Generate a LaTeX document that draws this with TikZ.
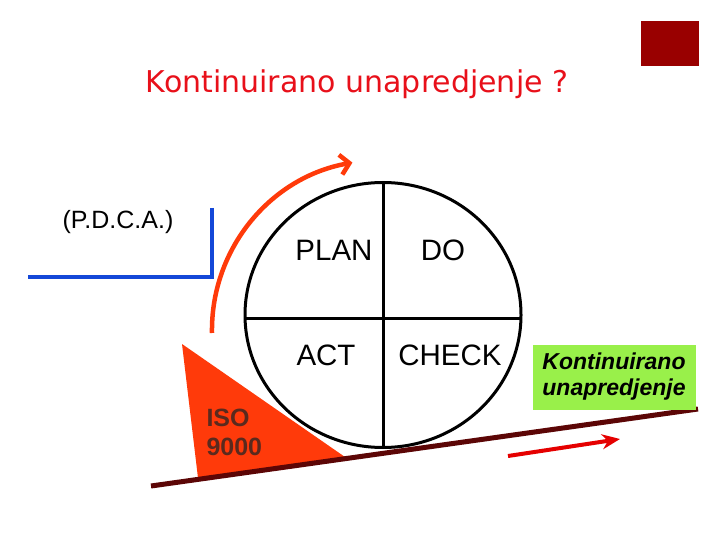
\documentclass[tikz,border=0pt]{standalone}
\usepackage{fontspec}
\setmainfont{Liberation Sans}
\newfontfamily\titlefont{DejaVu Sans}
\usetikzlibrary{arrows.meta,shapes.geometric}
\definecolor{titlered}{HTML}{E8101A}
\definecolor{pdcablue}{HTML}{1448D8}
\definecolor{arcorange}{HTML}{FF3A0A}
\definecolor{groundbrown}{HTML}{5C0606}
\definecolor{isobrown}{HTML}{5A2A1E}
\definecolor{boxgreen}{HTML}{99F04A}
\definecolor{darkred}{HTML}{990000}
\tikzset{
  quad/.style={font=\fontsize{29.5}{32}\selectfont, text=black},
}
\begin{document}
\begin{tikzpicture}[x=1pt,y=-1pt]
\useasboundingbox (0,0) rectangle (720,540);
% corner box
\fill[darkred] (641,21) rectangle (699,66);
% title
\node[text=titlered, font=\titlefont\fontsize{30}{33}\selectfont] (title) at (357,84) {Kontinuirano unapredjenje ?};
% PDCA label and blue L
\node[font=\fontsize{25}{28}\selectfont] (pdca) at (118,222) {(P.D.C.A.)};
\coordinate (bl1) at (212,208);
\coordinate (bl2) at (212,277);
\coordinate (bl3) at (28,277);
\draw[pdcablue, line width=4pt] (bl1) -- (bl2) -- (bl3);
% ISO triangle
\coordinate (t1) at (182,344);
\coordinate (t2) at (198,478);
\coordinate (t3) at (345,457);
\fill[arcorange] (t1) -- (t2) -- (t3) -- cycle;
\node[text=isobrown, font=\bfseries\fontsize{25}{29}\selectfont, align=left, anchor=north west] (iso) at (203,406) {ISO\\9000};
% cycle
\node[draw, line width=3pt, ellipse, minimum width=276pt, minimum height=265pt, inner sep=0pt] (cyc) at (383,315) {};
\coordinate (hl) at (244,318);
\coordinate (hr) at (521,318);
\draw[line width=3pt] (hl) -- (hr);
\draw[line width=3pt] (cyc.north) -- (cyc.south);
\node[quad] (plan) at (334,250) {PLAN};
\node[quad] (do) at (443,250) {DO};
\node[quad] (act) at (326,355) {ACT};
\node[quad] (check) at (450,355) {CHECK};
% orange arc arrow
\draw[arcorange, line width=4.5pt, -{Straight Barb[length=9pt,width=20pt,line width=4.5pt]}] (212,333) arc[start angle=179, end angle=260, radius=170];
% ground line
\coordinate (g1) at (151,486);
\coordinate (g2) at (698,409);
\draw[groundbrown, line width=5pt] (g1) -- (g2);
% small red arrow
\coordinate (r1) at (508,456);
\coordinate (r2) at (620,439);
\draw[red!90!black, line width=4pt, -{Stealth[length=18pt,width=15pt]}] (r1) -- (r2);
% green box
\node[fill=boxgreen, minimum width=163pt, minimum height=65pt, inner sep=0pt, align=center, font=\bfseries\itshape\fontsize{23}{26}\selectfont] (ku) at (614,377) {Kontinuirano\\unapredjenje};
\end{tikzpicture}
\end{document}
